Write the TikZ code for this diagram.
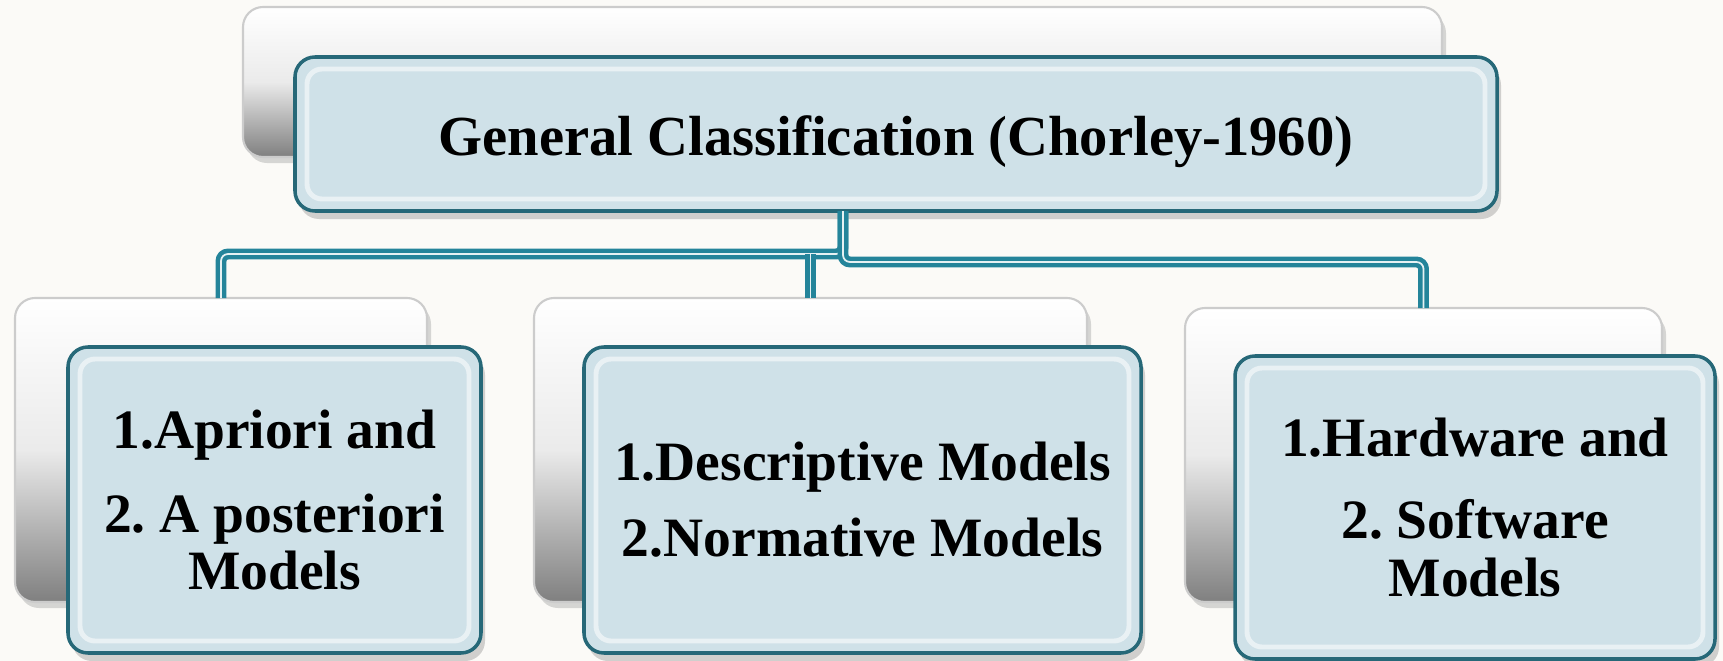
\documentclass[tikz,border=0pt]{standalone}
\usepackage{fontspec}
\setmainfont{Liberation Serif}
\usepackage{tikz}
\usetikzlibrary{shadows}

\definecolor{paper}{RGB}{251,250,247}
\definecolor{glass}{RGB}{207,225,232}
\definecolor{rim}{RGB}{38,104,120}
\definecolor{pipe}{RGB}{36,132,154}
\definecolor{stripe}{RGB}{230,241,243}

\begin{document}
\begin{tikzpicture}[
        backbox/.style={rectangle, rounded corners=2mm, inner sep=0pt, outer sep=0pt,
            draw=black!20, line width=0.6pt, top color=white, bottom color=black!50, middle color=black!8,
            drop shadow={opacity=0.3, shadow xshift=0.4mm, shadow yshift=-0.6mm}},
        frontbox/.style={rectangle, rounded corners=2mm, inner sep=0pt, outer sep=0pt,
            draw=rim, line width=1pt, fill=glass, align=center,
            font=\fontsize{15.8}{16.5}\selectfont\bfseries,
            drop shadow={opacity=0.35, shadow xshift=0.4mm, shadow yshift=-0.8mm}},
        bevel/.style={draw=white, line width=1.4pt, opacity=0.55, rounded corners=1.5mm},
        link/.style={draw=pipe, line width=1.3pt, double=stripe, double distance=0.5pt}
    ]
        \fill[paper] (0, 0) rectangle (17.23, -6.61);
        \useasboundingbox (0, 0) rectangle (17.23, -6.61);

        \node[backbox, minimum width=11.99cm, minimum height=1.50cm] (titleback) at (8.425, -0.82) {};
        \node[frontbox, minimum width=12.02cm, minimum height=1.54cm, font=\fontsize{16.1}{17}\selectfont\bfseries,
            text height=12.3pt, text depth=0pt] (title) at (8.96, -1.34)
            {General Classification (Chorley-1960)};

        \node[backbox, minimum width=4.12cm, minimum height=3.04cm] (aprioriback) at (2.21, -4.50) {};
        \node[backbox, minimum width=5.53cm, minimum height=3.04cm] (descrback) at (8.105, -4.50) {};
        \node[backbox, minimum width=4.77cm, minimum height=2.94cm] (hardwback) at (14.235, -4.55) {};

        \node[frontbox, minimum width=4.13cm, minimum height=3.06cm] (apriori) at (2.745, -5.00)
            {1.Apriori and\\[7.4pt] 2.\ A posteriori\\ Models};
        \node[frontbox, minimum width=5.57cm, minimum height=3.06cm] (descr) at (8.625, -5.00)
            {1.Descriptive Models\\[5.1pt] 2.Normative Models};
        \node[frontbox, minimum width=4.80cm, minimum height=3.03cm] (hardw) at (14.75, -5.075)
            {1.Hardware and\\[6.8pt] 2.\ Software\\ Models};

        \draw[bevel] ([shift={(0.12, -0.12)}]title.north west) rectangle ([shift={(-0.12, 0.12)}]title.south east);
        \draw[bevel] ([shift={(0.12, -0.12)}]apriori.north west) rectangle ([shift={(-0.12, 0.12)}]apriori.south east);
        \draw[bevel] ([shift={(0.12, -0.12)}]descr.north west) rectangle ([shift={(-0.12, 0.12)}]descr.south east);
        \draw[bevel] ([shift={(0.12, -0.12)}]hardw.north west) rectangle ([shift={(-0.12, 0.12)}]hardw.south east);

        \coordinate (trunk) at ([xshift=-0.53cm]title.south);
        \coordinate (jl) at (8.43, -2.54);
        \coordinate (jr) at (8.43, -2.62);

        \draw[link, rounded corners=2pt] (trunk) -- (jl) -| (aprioriback.north);
        \draw[link] (jl -| descrback.north) -- (descrback.north);
        \draw[link, rounded corners=2pt] (trunk) -- (jr) -| (hardwback.north);
    \end{tikzpicture}
\end{document}
